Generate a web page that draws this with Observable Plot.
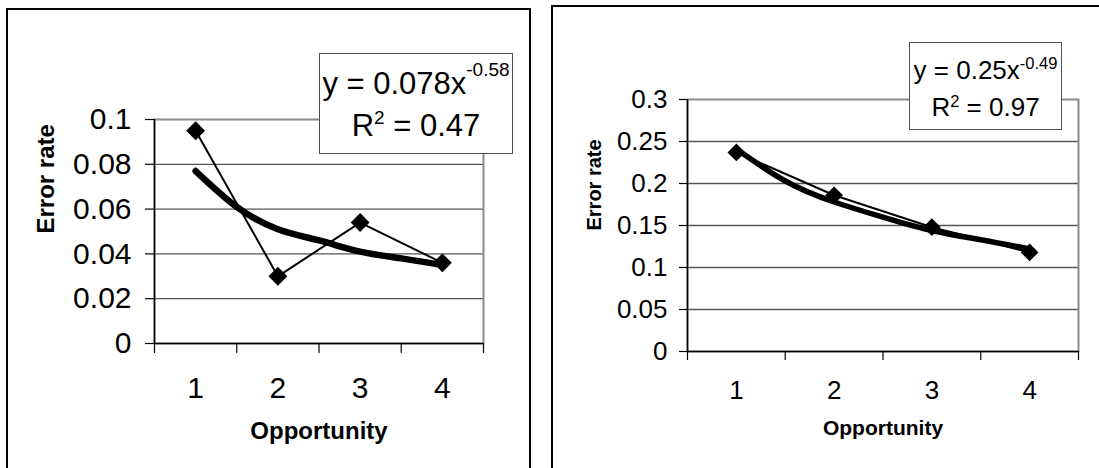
<!DOCTYPE html>
<html><head><meta charset="utf-8">
<script src="https://cdn.jsdelivr.net/npm/d3@7"></script>
<script src="https://cdn.jsdelivr.net/npm/@observablehq/plot@0.6"></script>
<style>
html,body{margin:0;padding:0;background:#fff;}
body{width:1099px;height:468px;overflow:hidden;position:relative;font-family:"Liberation Sans",Arial,sans-serif;color:#000;}
.panel{position:absolute;border:2px solid #000;box-sizing:border-box;}
.chart{position:absolute;top:0;}
.legend{position:absolute;background:#fff;border:1.5px solid #505050;box-sizing:border-box;}
.legend .ln{position:absolute;left:0;right:0;text-align:center;white-space:nowrap;line-height:1;}
.legend .sup{line-height:0;}
</style></head><body>
<div class="panel" style="left:6px;top:8px;width:525px;height:480px;"></div>
<div class="panel" style="left:551px;top:5px;width:560px;height:480px;"></div>
<div id="chartA" class="chart" style="left:0px;"></div>
<div id="chartB" class="chart" style="left:540px;"></div>
<div class="legend" id="legA" style="left:319px;top:53px;width:194px;height:101px;"></div>
<div class="legend" id="legB" style="left:909px;top:42px;width:153px;height:88px;"></div>
<script>
// ---- data ----
const opportunities = [1, 2, 3, 4];
const xTickLabels = ["1", "2", "3", "4"];
const categoryEdges = [0.5, 1.5, 2.5, 3.5, 4.5];
const errorRateA = [0.095, 0.030, 0.054, 0.036];
const errorRateB = [0.237, 0.186, 0.148, 0.118];
const trendX = [1, 1.5, 2, 2.5, 3, 3.5, 4];
const trendA = [0.077, 0.061, 0.051, 0.046, 0.041, 0.038, 0.035];
const trendB = [0.241, 0.203, 0.178, 0.160, 0.144, 0.133, 0.122];
const yTicksA = [0, 0.02, 0.04, 0.06, 0.08, 0.1];
const yTicksB = [0, 0.05, 0.1, 0.15, 0.2, 0.25, 0.3];
const fitCoef = ["0.078", "0.25"];
const fitExp = ["-0.58", "-0.49"];
const fitR2 = ["0.47", "0.97"];
const xTitle = "Opportunity";
const yTitle = "Error rate";

function makeChart(c) {
  const pts = opportunities.map((x, i) => ({x, y: c.values[i]}));
  const trend = trendX.map((x, i) => ({x, y: c.trend[i]}));
  return Plot.plot({
    width: c.width, height: 468,
    marginLeft: c.ml, marginRight: c.mr, marginTop: c.mt, marginBottom: c.mb,
    style: {fontFamily: "'Liberation Sans', Arial, sans-serif", background: "transparent", color: "#000", overflow: "visible"},
    x: {domain: [0.5, 4.5], axis: null},
    y: {domain: [0, c.yTicks[c.yTicks.length - 1]], axis: null},
    marks: [
      Plot.gridY(c.yTicks.slice(1, -1), {stroke: "#555", strokeOpacity: 1, strokeWidth: 1.3}),
      Plot.frame({stroke: "#8a8a8a", strokeWidth: 2}),
      Plot.axisY({ticks: c.yTicks, tickSize: c.tickY, tickPadding: c.padY, fontSize: c.fsTick,
        tickFormat: d => String(d), label: null, stroke: "#000", strokeWidth: 1.2}),
      Plot.axisX({ticks: categoryEdges, tickSize: c.tickX, tickFormat: () => "", label: null, stroke: "#000", strokeWidth: 1.2}),
      Plot.axisX({ticks: opportunities, tickSize: 0, tickPadding: c.padX, fontSize: c.fsTick,
        tickFormat: (d, i) => xTickLabels[i], label: null}),
      Plot.ruleX([0.5], {stroke: "#000", strokeWidth: 1.5}),
      Plot.ruleY([0], {stroke: "#000", strokeWidth: 1.5}),
      Plot.line(trend, {x: "x", y: "y", curve: "natural", stroke: "#000", strokeWidth: c.trendW}),
      Plot.line(pts, {x: "x", y: "y", stroke: "#000", strokeWidth: 2}),
      Plot.dot(pts, {x: "x", y: "y", symbol: "diamond2", r: c.r, fill: "#000", stroke: "none"}),
      Plot.text([xTitle], {frameAnchor: "bottom", dy: c.xtDy, fontSize: c.fsTitleX, fontWeight: "bold"}),
      Plot.text([yTitle], {frameAnchor: "left", rotate: -90, dx: c.ytDx, dy: c.ytDy, fontSize: c.fsTitleY, fontWeight: "bold"})
    ]
  });
}

document.getElementById("chartA").append(makeChart({
  width: 540, ml: 154, mr: 57, mt: 119, mb: 125,
  values: errorRateA, trend: trendA, yTicks: yTicksA,
  tickY: 9, padY: 14, tickX: 10, padX: 33, fsTick: 30,
  trendW: 6.5, r: 8.5, xtDy: 95, fsTitleX: 24, ytDx: -108, ytDy: 2, fsTitleY: 24
}));
document.getElementById("chartB").append(makeChart({
  width: 559, ml: 147, mr: 21, mt: 99, mb: 117,
  values: errorRateB, trend: trendB, yTicks: yTicksB,
  tickY: 8, padY: 12, tickX: 9, padX: 29, fsTick: 26,
  trendW: 5.5, r: 8, xtDy: 83, fsTitleX: 21, ytDx: -93, ytDy: 5, fsTitleY: 20
}));

function legend(el, i, fs, fsSup, top1, top2, raise1, raise2) {
  el.innerHTML =
    `<div class="ln" style="top:${top1}px;font-size:${fs}px">y = ${fitCoef[i]}x<span class="sup" style="font-size:${fsSup}px;vertical-align:${raise1}px">${fitExp[i]}</span></div>` +
    `<div class="ln" style="top:${top2}px;font-size:${fs}px">R<span class="sup" style="font-size:${fsSup}px;vertical-align:${raise2}px">2</span> = ${fitR2[i]}</div>`;
}
legend(document.getElementById("legA"), 0, 31, 19, 14.3, 56.3, 18, 12);
legend(document.getElementById("legB"), 1, 26, 16.5, 13.5, 50.5, 10, 9);
</script>
</body></html>
